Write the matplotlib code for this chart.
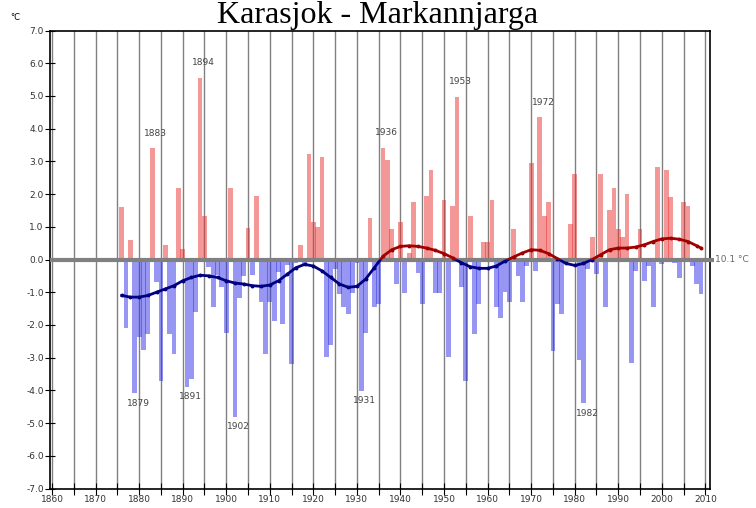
import numpy as np
import matplotlib
matplotlib.use("Agg")
import matplotlib.pyplot as plt
from matplotlib.patches import Rectangle

title = "Karasjok - Markannjarga"
years = list(range(1876, 2010))
anomaly = [
    1.6, -2.1, 0.6, -4.09, -2.38, -2.77, -2.28, 3.4, -0.68, -3.7,      # 1876-1885
    0.43, -2.28, -2.9, 2.2, 0.33, -3.89, -3.65, -1.6, 5.56, 1.34,      # 1886-1895
    -0.22, -1.44, -0.47, -0.83, -2.26, 2.2, -4.8, -1.19, -0.5, 0.95,   # 1896-1905
    -0.47, 1.93, -1.29, -2.89, -1.29, -1.87, -0.37, -1.97, -0.17, -3.19,  # 1906-1915
    -0.1, 0.43, -0.15, 3.24, 1.14, 1.0, 3.14, -2.99, -2.61, -0.3,      # 1916-1925
    -1.05, -1.46, -1.67, -1.01, -0.1, -4.01, -2.26, 1.26, -1.46, -1.36,  # 1926-1935
    3.42, 3.04, 0.93, -0.75, 1.14, -1.03, 0.2, 1.75, -0.4, -1.36,      # 1936-1945
    1.93, 2.73, -1.03, -1.03, 1.83, -2.99, 1.65, 4.98, -0.85, -3.7,    # 1946-1955
    1.34, -2.28, -1.36, 0.53, 0.53, 1.82, -1.46, -1.8, -0.98, -1.29,   # 1956-1965
    0.93, -0.5, -1.29, -0.2, 2.96, -0.34, 4.35, 1.34, 1.75, -2.79,     # 1966-1975
    -1.36, -1.67, -0.06, 1.1, 2.6, -3.07, -4.4, -0.3, 0.7, -0.44,      # 1976-1985
    2.6, -1.46, 1.5, 2.2, 0.93, 0.7, 2.0, -3.17, -0.34, 0.93,          # 1986-1995
    -0.65, -0.2, -1.46, 2.83, -0.15, 2.73, 1.92, -0.1, -0.57, 1.75,    # 1996-2005
    1.65, -0.2, -0.75, -1.05,                                          # 2006-2009
]
smooth_years = [1876, 1878, 1880, 1882, 1884, 1886, 1888, 1890, 1892, 1894,
                1896, 1898, 1900, 1902, 1904, 1906, 1908, 1910, 1912, 1914,
                1916, 1918, 1920, 1922, 1924, 1926, 1928, 1930, 1932, 1934,
                1936, 1938, 1940, 1942, 1944, 1946, 1948, 1950, 1952, 1954,
                1956, 1958, 1960, 1962, 1964, 1966, 1968, 1970, 1972, 1974,
                1976, 1978, 1980, 1982, 1984, 1986, 1988, 1990, 1992, 1994,
                1996, 1998, 2000, 2002, 2004, 2006, 2008, 2009]
smooth_vals = [-1.1, -1.15, -1.15, -1.1, -1.0, -0.9, -0.8, -0.65, -0.55, -0.48,
               -0.5, -0.55, -0.65, -0.72, -0.75, -0.8, -0.82, -0.78, -0.65, -0.45,
               -0.25, -0.15, -0.2, -0.35, -0.55, -0.75, -0.85, -0.82, -0.6, -0.25,
               0.1, 0.3, 0.4, 0.42, 0.4, 0.35, 0.28, 0.18, 0.05, -0.1,
               -0.22, -0.27, -0.27, -0.2, -0.05, 0.08, 0.2, 0.3, 0.28, 0.18,
               0.03, -0.12, -0.18, -0.12, 0.0, 0.15, 0.3, 0.35, 0.35, 0.38,
               0.45, 0.55, 0.63, 0.65, 0.62, 0.55, 0.42, 0.35]
labelled_years = [1879, 1883, 1891, 1894, 1902, 1931, 1936, 1953, 1972, 1982]
mean_label = "10.1 °C"
yticks = [7, 6, 5, 4, 3, 2, 1, 0, -1, -2, -3, -4, -5, -6, -7]
xlabels = list(range(1860, 2011, 10))

fig = plt.figure(figsize=(7.56, 5.08), dpi=100)
ax = fig.add_axes([50/756, 1-488.5/508, 660/756, 458/508])
ax.set_xlim(1859.54, 2011.06)
ax.set_ylim(-7, 7)

# vertical grid every 5 years
for gx in range(1860, 2011, 5):
    ax.axvline(gx, color="#808080", lw=1.0, zorder=1)

yrs = np.array(years)
vals = np.array(anomaly)
pos = vals >= 0
ax.bar(yrs[pos], vals[pos], width=1.1, color="#e83030", alpha=0.5, lw=0, zorder=2)
ax.bar(yrs[~pos], vals[~pos], width=1.1, color="#3030e8", alpha=0.5, lw=0, zorder=2)

# zero line
ax.plot([1859.54, 2012.0], [0, 0], color="#808080", lw=3, zorder=3, clip_on=False,
        solid_capstyle="butt")

# smoothed curve, red above zero, blue below
for col, rect in (("#a00000", (1850, 0, 200, 10)), ("#000080", (1850, -10, 200, 10))):
    ln, = ax.plot(smooth_years, smooth_vals, color=col, lw=2, marker="o", ms=1.8,
                  zorder=4)
    clip = Rectangle(rect[:2], rect[2], rect[3], transform=ax.transData)
    ln.set_clip_path(clip)

# year labels
lookup = dict(zip(years, anomaly))
for y in labelled_years:
    v = lookup[y]
    off = 0.45 if v > 0 else -0.3
    ax.text(y + 0.8, v + off, str(y), ha="center", va="center", fontsize=6.5,
            color="#444444", zorder=5)

ax.text(2012.2, 0, mean_label, ha="left", va="center", fontsize=6.5,
        color="#666666", clip_on=False)

ax.set_yticks(yticks)
ax.set_yticklabels([f"{t:.1f}" for t in yticks])
ax.set_xticks(range(1860, 2011, 5), minor=True)
ax.set_xticks(xlabels)
ax.set_xticklabels([str(x) for x in xlabels])
ax.tick_params(axis="both", which="both", direction="inout", labelsize=6.5,
               labelcolor="#333333", length=7, width=0.8, pad=1)
ax.tick_params(axis="x", which="both", length=8)
for s in ax.spines.values():
    s.set_linewidth(1.2)
    s.set_color("black")

fig.text(378/756, 1-22.5/508, title, ha="center", va="baseline",
         fontsize=23, family="Liberation Serif")
fig.text(10/756, 1-20/508, "°C", ha="left", va="baseline", fontsize=6)

fig.savefig("out.png", dpi=100)
